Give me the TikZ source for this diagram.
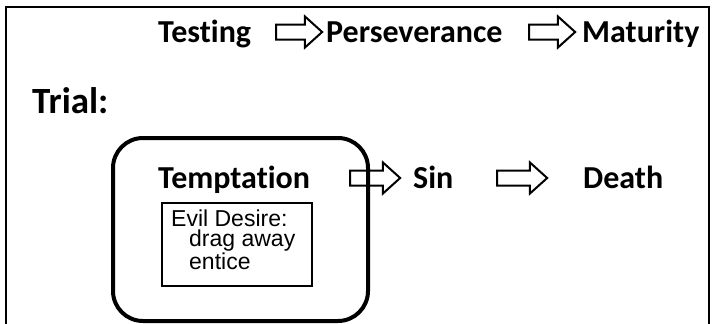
\documentclass[tikz,border=0pt]{standalone}
\usepackage{fontspec}
\setmainfont{Carlito}[Ligatures={NoCommon,NoRare,NoContextual}]
\newfontfamily\arialfont{Liberation Sans}
\usetikzlibrary{shapes.arrows}
\begin{document}
\begin{tikzpicture}[x=1pt,y=-1pt,
  head/.style={font=\bfseries\fontsize{32}{38}\selectfont, inner sep=0pt, anchor=base west},
  small/.style={font=\arialfont\fontsize{23}{20.5}\selectfont, inner sep=0pt, anchor=base west, align=left},
  blockarrow/.style={single arrow, draw=black, line width=2pt, fill=white,
    minimum height=#1, minimum width=29pt, inner xsep=0pt, inner ysep=6.5pt,
    single arrow head extend=8pt, single arrow tip angle=84, anchor=center}]
\useasboundingbox (0,0) rectangle (713,324);
% frame
\draw[line width=2.5pt] (6,324) -- (6,7) -- (709,7) -- (709,324);
% top row
\node[head] (testing) at (158,42) {Testing};
\node[blockarrow=46pt] (a1) at (295,32) {};
\node[head] (persev) at (326,42) {Perseverance};
\node[blockarrow=46pt] (a2) at (548,32) {};
\node[head] (maturity) at (582,42) {Maturity};
% trial
\node[font=\bfseries\fontsize{37}{42}\selectfont, inner sep=0pt, anchor=base west] (trial) at (32,113) {Trial:};
% bottom row
\node[head] (tempt) at (158,188) {Temptation};
\node[blockarrow=50pt] (a3) at (371,178) {};
\node[head] (sin) at (413,188) {Sin};
\node[blockarrow=50pt] (a4) at (518,178) {};
\node[head] (death) at (583,188) {Death};
% boxes
\node[draw, line width=4pt, rounded corners=30pt, minimum width=255pt, minimum height=183pt, inner sep=0pt] (tbox) at (240.5,229.5) {};
\node[draw, line width=2.5pt, minimum width=150pt, minimum height=83pt, inner sep=0pt] (desire) at (237,244.5) {};
\node[small] (evil) at (171,269) {Evil Desire:\\\hspace*{18pt}drag away\\\hspace*{18pt}entice};
\end{tikzpicture}
\end{document}
